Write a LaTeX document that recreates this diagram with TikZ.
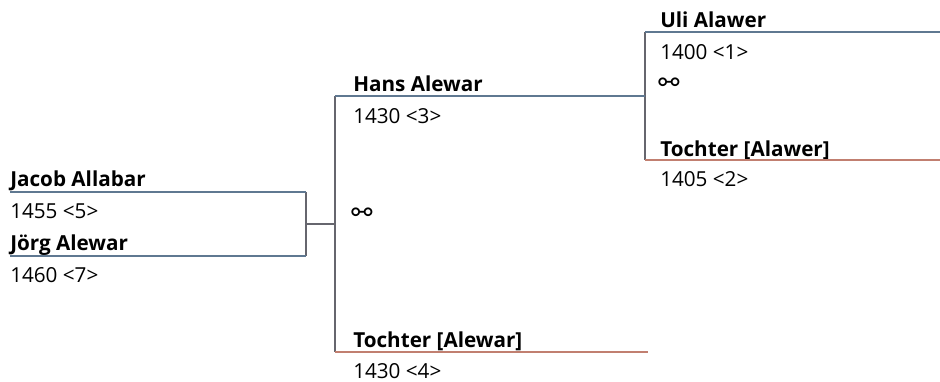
\documentclass[tikz,border=0pt]{standalone}
\usepackage{fontspec}
\setmainfont{Open Sans}
\newfontfamily\symfont{DejaVu Sans}
\usetikzlibrary{positioning}
\definecolor{male}{HTML}{5F7891}
\definecolor{female}{HTML}{C17F70}
\definecolor{kin}{HTML}{66666E}
\newcommand{\partner}{{\symfont\fontsize{19}{20}\selectfont ⚯}}

\begin{document}
\begin{tikzpicture} [x=0.75pt, y=-0.75pt, inner sep=0pt, person/.style ={anchor=base west, font=\fontsize{15.5}{18}\selectfont\bfseries}, year/.style ={anchor=base west, font=\fontsize{15.5}{18}\selectfont}, bar/.style ={line width=1.9pt}, kinline/.style ={line width=1.9pt, color=kin}]
\useasboundingbox (0,0) rectangle (940,382);
% generation 1
\coordinate (A1) at (645,32); \coordinate (B1) at (940,32);
\coordinate (A2) at (645,160); \coordinate (B2) at (940,160);
\node[person] (P1) at (660,27) {Uli Alawer};
\node[year] (Y1) at (660,60) {1400 <1>};
\node[year] (M12) at (658,91) {\partner};
\node[person] (P2) at (660,156) {Tochter [Alawer]};
\node[year] (Y2) at (660,186) {1405 <2>};
% generation 2
\coordinate (A3) at (335,96); \coordinate (B3) at (645,96);
\coordinate (A4) at (335,352); \coordinate (B4) at (648,352);
\node[person] (P3) at (353,91) {Hans Alewar};
\node[year] (Y3) at (353,123) {1430 <3>};
\node[year] (M34) at (351,221) {\partner};
\node[person] (P4) at (353,347) {Tochter [Alewar]};
\node[year] (Y4) at (353,378) {1430 <4>};
% generation 3
\coordinate (A5) at (10,192); \coordinate (B5) at (306,192);
\coordinate (A7) at (10,256); \coordinate (B7) at (306,256);
\node[person] (P5) at (10,186) {Jacob Allabar};
\node[year] (Y5) at (10,218) {1455 <5>};
\node[person] (P7) at (10,250) {Jörg Alewar};
\node[year] (Y7) at (10,282) {1460 <7>};
\coordinate (C57) at (306,224);
\draw[kinline] (A1) -- (A2);
\draw[kinline] (A3) -- (A4);
\draw[kinline] (B5) -- (B7);
\draw[kinline] (C57) -- (C57-|A3);
\draw[bar, color=male] (A1) -- (B1);
\draw[bar, color=female] (A2) -- (B2);
\draw[bar, color=male] (A3) -- (B3);
\draw[bar, color=female] (A4) -- (B4);
\draw[bar, color=male] (A5) -- (B5);
\draw[bar, color=male] (A7) -- (B7);
\end{tikzpicture}
\end{document}
